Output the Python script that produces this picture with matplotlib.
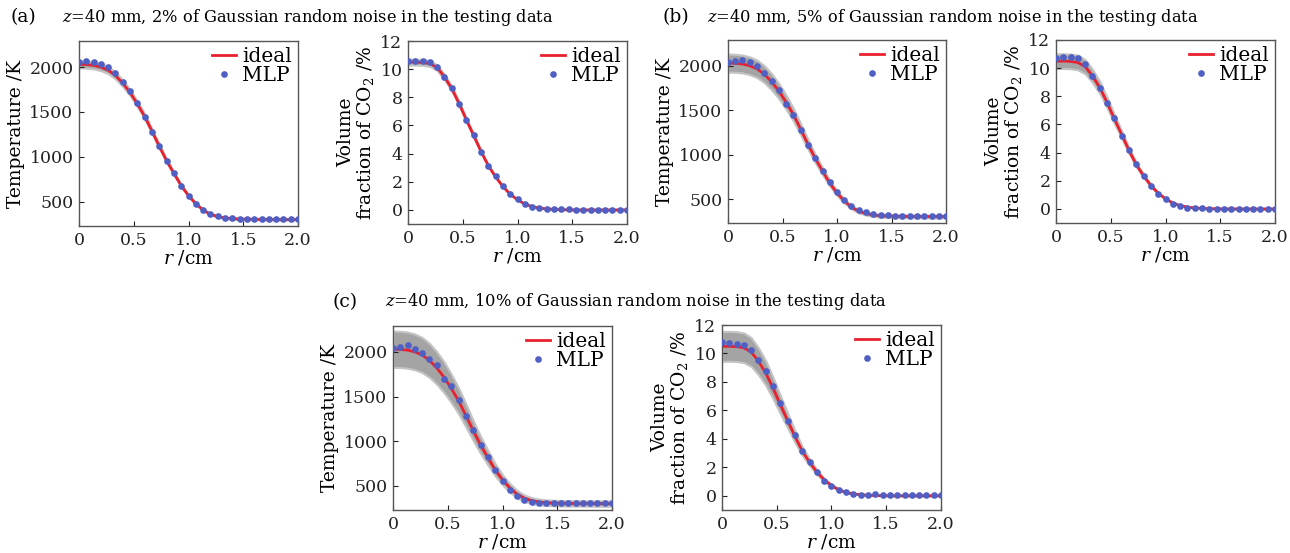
import matplotlib
matplotlib.use("Agg")
import matplotlib.pyplot as plt
import numpy as np

plt.rcParams['font.family'] = ['DejaVu Serif']
plt.rcParams['mathtext.fontset'] = 'dejavuserif'

# radial positions (cm)
r = [0.0, 0.067, 0.133, 0.2, 0.267, 0.333, 0.4, 0.467, 0.533, 0.6, 0.667,
     0.733, 0.8, 0.867, 0.933, 1.0, 1.067, 1.133, 1.2, 1.267, 1.333, 1.4,
     1.467, 1.533, 1.6, 1.667, 1.733, 1.8, 1.867, 1.933, 2.0]

# ideal profiles at z=40 mm
T_ideal = [2030, 2028, 2020, 2000, 1965, 1905, 1820, 1715, 1590, 1450, 1285,
           1118, 958, 815, 680, 568, 478, 408, 362, 335, 320, 312, 308, 306,
           305, 304, 303, 303, 302, 302, 302]
C_ideal = [10.50, 10.50, 10.48, 10.40, 10.10, 9.45, 8.62, 7.55, 6.40, 5.28, 4.15,
           3.15, 2.35, 1.66, 1.12, 0.72, 0.42, 0.24, 0.13, 0.07, 0.04, 0.02,
           0.01, 0.0, 0.0, 0.0, 0.0, 0.0, 0.0, 0.0, 0.0]

# MLP predictions
T_a = [2055, 2063, 2056, 2033, 2000, 1933, 1833, 1730, 1600, 1444, 1278, 1122,
       959, 819, 678, 567, 478, 407, 367, 341, 322, 315, 311, 307, 306, 305,
       305, 304, 304, 304, 304]
T_b = [2045, 2056, 2063, 2045, 2000, 1919, 1833, 1722, 1575, 1444, 1278, 1111,
       963, 815, 690, 580, 490, 420, 378, 350, 332, 322, 315, 310, 308, 307,
       306, 306, 305, 305, 305]
T_c = [2040, 2051, 2073, 2037, 1989, 1926, 1853, 1702, 1614, 1463, 1287, 1125,
       960, 820, 676, 555, 456, 390, 342, 324, 313, 310, 308, 307, 306, 305,
       305, 305, 305, 305, 305]
C_a = [10.55, 10.59, 10.59, 10.52, 10.12, 9.41, 8.64, 7.54, 6.39, 5.32, 4.10,
       3.14, 2.39, 1.69, 1.15, 0.75, 0.40, 0.21, 0.14, 0.09, 0.09, 0.05, 0.04,
       0.03, 0.03, 0.02, 0.02, 0.02, 0.02, 0.02, 0.02]
C_b = [10.75, 10.80, 10.80, 10.73, 10.26, 9.43, 8.60, 7.54, 6.47, 5.21, 4.22,
       3.20, 2.32, 1.61, 1.07, 0.71, 0.38, 0.19, 0.09, 0.05, 0.04, 0.03, 0.03,
       0.02, 0.02, 0.02, 0.02, 0.02, 0.02, 0.02, 0.02]
C_c = [10.82, 10.75, 10.68, 10.59, 10.24, 9.51, 8.75, 7.69, 6.52, 5.27, 4.24,
       3.15, 2.40, 1.65, 1.04, 0.71, 0.38, 0.24, 0.12, 0.05, 0.02, 0.09, 0.05,
       0.03, 0.02, 0.02, 0.02, 0.02, 0.02, 0.02, 0.02]

noise = [0.02, 0.05, 0.10]
tags = ['(a)', '(b)', '(c)']
x_ticks = [0, 0.5, 1.0, 1.5, 2.0]
x_ticklabels = ['0', '0.5', '1.0', '1.5', '2.0']

W, H = 1290, 553
fig = plt.figure(figsize=(W / 100, H / 100), dpi=100)
fig.patch.set_facecolor('white')

RED = '#e8212e'
BLUE = '#4f5fc4'


def pix_axes(l, t, rr, b):
    return fig.add_axes([l / W, 1 - b / H, (rr - l) / W, (b - t) / H])


def style(ax):
    ax.set_xlim(0, 2)
    ax.set_xticks(x_ticks)
    ax.set_xticklabels(x_ticklabels)
    ax.tick_params(direction='in', length=3.5, width=0.8, labelsize=12.5,
                   colors='#222222', pad=4)
    ax.tick_params(top=False, right=False)
    for s in ax.spines.values():
        s.set_color('#555555')
        s.set_linewidth(1.0)
    ax.set_xlabel('$r$ /cm', fontsize=13.5, labelpad=0)


def draw(ax, ideal, mlp, frac):
    ideal = np.array(ideal)
    ax.fill_between(r, ideal * (1 - frac), ideal * (1 + frac), color='#a4a4a4',
                    edgecolor='#c4c4c4', linewidth=1.5, zorder=1)
    ax.plot(r, ideal, color=RED, lw=2.0, zorder=2, label='ideal')
    ax.plot(r, mlp, 'o', color=BLUE, ms=4.8, mec='none', zorder=3, label='MLP')
    ax.legend(loc='upper right', frameon=False, fontsize=14.5, handlelength=1.2,
              handletextpad=0.3, borderaxespad=0.1, labelspacing=0.0,
              borderpad=0.2)


def temp_panel(ax, mlp, frac):
    draw(ax, T_ideal, mlp, frac)
    ax.set_ylim(230, 2290)
    ax.set_yticks([500, 1000, 1500, 2000])
    style(ax)
    ax.set_ylabel('Temperature /K', fontsize=13.5, labelpad=3)


def co2_panel(ax, mlp, frac):
    draw(ax, C_ideal, mlp, frac)
    ax.set_ylim(-1, 12)
    ax.set_yticks([0, 2, 4, 6, 8, 10, 12])
    style(ax)
    ax.set_ylabel('Volume\nfraction of CO$_2$ /%', fontsize=13.5, labelpad=3,
                  linespacing=1.0)


# layout in pixels (left, top, right, bottom)
boxes = [
    ((79, 41, 298, 226), (408, 41, 627, 224)),
    ((728, 40, 946, 223), (1056, 40, 1275, 223)),
    ((393, 326, 612, 510), (722, 325, 941, 510)),
]
T_mlp = [T_a, T_b, T_c]
C_mlp = [C_a, C_b, C_c]

for k in range(3):
    ax1 = pix_axes(*boxes[k][0])
    temp_panel(ax1, T_mlp[k], noise[k])
    ax2 = pix_axes(*boxes[k][1])
    co2_panel(ax2, C_mlp[k], noise[k])

title_pos = [(10, 62, 17), (663, 707, 17), (332, 385, 302)]
for k in range(3):
    tx, zx, ty = title_pos[k]
    fig.text(tx / W, 1 - ty / H, tags[k], fontsize=13.5, va='center', ha='left')
    pct = int(round(noise[k] * 100))
    fig.text(zx / W, 1 - ty / H,
             '$z$=40 mm, %d%% of Gaussian random noise in the testing data' % pct,
             fontsize=11.7, va='center', ha='left')

fig.savefig('out.png', dpi=100, facecolor='white')
